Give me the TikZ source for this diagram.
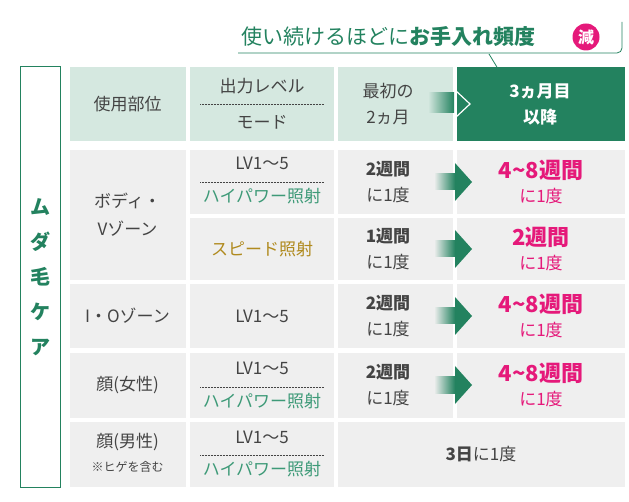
\documentclass[tikz,border=0pt]{standalone}
\usepackage{fontspec}
\setmainfont{Noto Sans CJK JP}
\usetikzlibrary{calc}
\definecolor{mgreen}{HTML}{23825F}
\definecolor{hgreen}{HTML}{D5E8E0}
\definecolor{cgray}{HTML}{EFEFEF}
\definecolor{tgray}{HTML}{444444}
\definecolor{mpink}{HTML}{E5197A}
\definecolor{tgreen}{HTML}{3E9A78}
\definecolor{tgold}{HTML}{B08A1E}
\tikzset{
  txt/.style={text=tgray, font=\fontsize{17}{20}\selectfont, inner sep=0pt},
  hi/.style={text=mpink, font=\bfseries\fontsize{22}{24}\selectfont, inner sep=0pt},
  hilow/.style={text=mpink, font=\fontsize{17}{20}\selectfont, inner sep=0pt},
  dotline/.style={tgray, densely dotted, line width=0.5pt},
}
% cell: x1,y1,x2,y2,colour
\newcommand{\cellbox}[5]{\fill[#5] (#1,#2) rectangle (#3,#4);}
% body arrow centred at y
\newcommand{\fwdarrow}[1]{
  \shade[left color=cgray, right color=mgreen] (434,#1-8) rectangle (455,#1+8);
  \fill[mgreen] (455,#1-19) -- (472,#1) -- (455,#1+19) -- cycle;}
\begin{document}
\begin{tikzpicture}[x=1pt,y=-1pt]
\useasboundingbox (0,0) rectangle (629,502);

% callout
\node[text=mgreen, font=\fontsize{21}{24}\selectfont, inner sep=0pt, anchor=west] (callout) at (241,37)
  {使い続けるほどに\textbf{お手入れ頻度}};
\node[circle, fill=mpink, text=white, font=\bfseries\fontsize{16}{16}\selectfont, inner sep=0pt, minimum size=27pt] (less) at (586,37) {減};
\draw[mgreen, line width=0.8pt, rounded corners=5pt] (238,53) -- (622,53) -- (622,22);
\draw[mgreen, line width=0.8pt] (489,54) -- (503,77);

% left label
\draw[mgreen, line width=1pt] (20,67) rectangle (60,487);
\node[text=mgreen, font=\bfseries\fontsize{20}{35}\selectfont, align=center, inner sep=0pt] (label) at (40,277) {ム\\ダ\\毛\\ケ\\ア};

% header
\cellbox{69.6}{67}{185.5}{141}{hgreen}
\cellbox{189.7}{67}{333.9}{141}{hgreen}
\cellbox{338}{67}{453}{141}{hgreen}
\cellbox{457}{67}{625}{141}{mgreen}
\node[txt] (h1) at (127.5,104) {使用部位};
\node[txt] (h2a) at (262,86) {出力レベル};
\draw[dotline] (200,104) -- (324,104);
\node[txt] (h2b) at (262,122) {モード};
\node[txt, align=center, font=\fontsize{17}{26}\selectfont] (h3) at (388,104) {最初の\\2ヵ月};
\node[txt, text=white, font=\bfseries\fontsize{17}{26}\selectfont, align=center] (h4) at (540,104) {3ヵ月目\\以降};
\shade[left color=hgreen, right color=mgreen] (428,93) rectangle (454,113);
\draw[white, line width=1.2pt] (455,90) -- (470,104) -- (455,118);

% row 1 and 2 (body / V zone)
\cellbox{69.6}{150}{185.5}{280}{cgray}
\node[txt, align=center, font=\fontsize{17}{28}\selectfont] (r1a) at (127.5,215) {ボディ・\\Vゾーン};
\foreach \ya/\yb in {150/214, 218/280, 284/348, 353/418}{
  \cellbox{189.7}{\ya}{333.9}{\yb}{cgray}
  \cellbox{338}{\ya}{453}{\yb}{cgray}
  \cellbox{457}{\ya}{625}{\yb}{cgray}
}
\node[txt] (r1b) at (262,163) {LV1～5};
\draw[dotline] (200,182) -- (324,182);
\node[txt, text=tgreen] (r1c) at (262,196) {ハイパワー照射};
\node[txt, text=tgold] (r2b) at (262,249) {スピード照射};

% row 3 and 4 left cells
\cellbox{69.6}{284}{185.5}{348}{cgray}
\node[txt] (r3a) at (127.5,316) {I・Oゾーン};
\node[txt] (r3b) at (262,316) {LV1～5};
\cellbox{69.6}{353}{185.5}{418}{cgray}
\node[txt] (r4a) at (127.5,385) {顔(女性)};
\node[txt] (r4b) at (262,368) {LV1～5};
\draw[dotline] (200,387) -- (324,387);
\node[txt, text=tgreen] (r4c) at (262,401) {ハイパワー照射};

% first two months / after
\foreach \yc/\wk/\hw in {182/2/{4\string~8}, 249/1/2, 316/2/{4\string~8}, 385/2/{4\string~8}}{
  \node[txt, align=center, font=\fontsize{17}{26}\selectfont] at (388,\yc) {\textbf{\wk 週間}\\に1度};
  \node[hi] at (541,\yc-12) {\hw 週間};
  \node[hilow] at (541,\yc+14) {に1度};
  \fwdarrow{\yc}
}

% row 5
\cellbox{69.6}{422}{185.5}{487}{cgray}
\cellbox{189.7}{422}{333.9}{487}{cgray}
\cellbox{338}{422}{625}{487}{cgray}
\node[txt] (r5a) at (127.5,442) {顔(男性)};
\node[txt, font=\fontsize{12}{14}\selectfont] (r5n) at (127.5,467) {※ヒゲを含む};
\node[txt] (r5b) at (262,437) {LV1～5};
\draw[dotline] (200,455) -- (324,455);
\node[txt, text=tgreen] (r5c) at (262,469) {ハイパワー照射};
\node[txt] (r5d) at (481,454) {\textbf{3日}に1度};
\end{tikzpicture}
\end{document}
